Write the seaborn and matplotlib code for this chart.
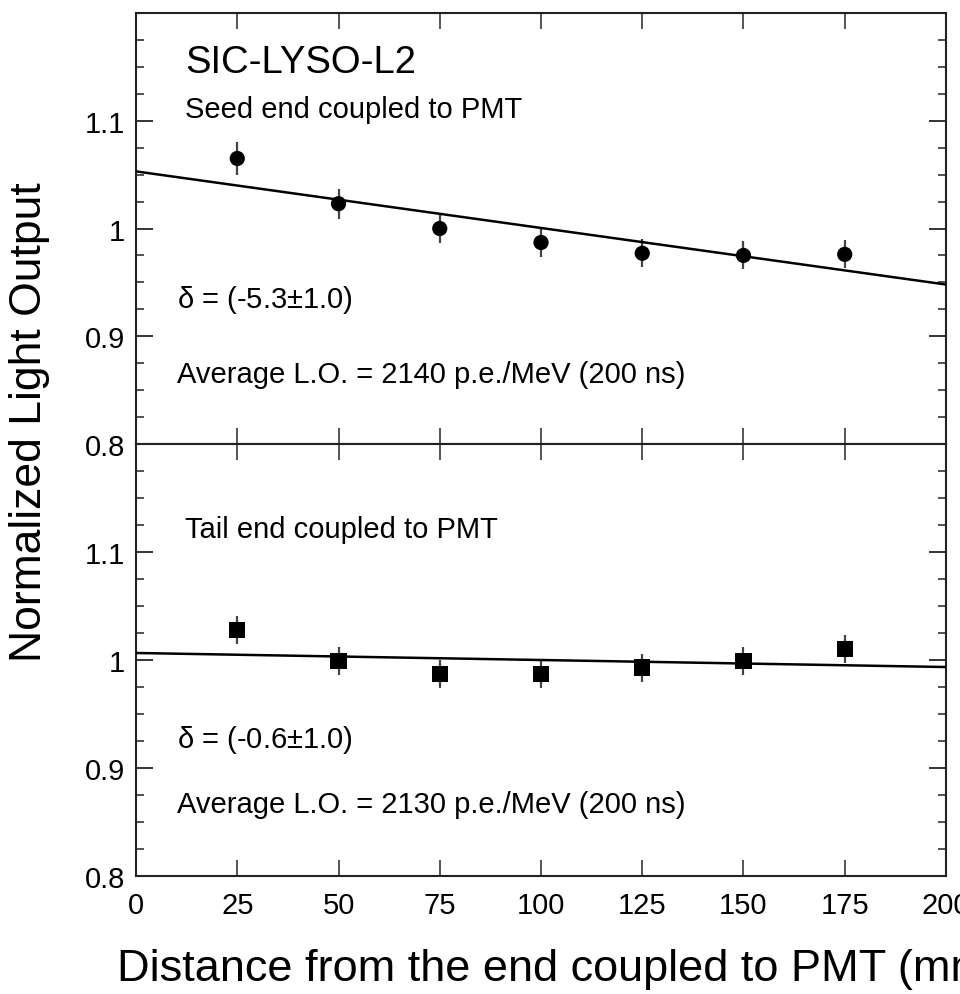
"""
    Light output uniformity of SIC-LYSO-L2, seed end vs tail end coupled to PMT.
"""

import matplotlib
matplotlib.use("Agg")
import numpy as np
import pandas as pd
import matplotlib.pyplot as plt
import matplotlib.ticker as mtick
import seaborn as sns

# Data
distance = [25, 50, 75, 100, 125, 150, 175]

seed_lo = [1.065, 1.023, 1.000, 0.987, 0.977, 0.975, 0.976]
seed_err = [0.015, 0.014, 0.013, 0.013, 0.013, 0.013, 0.013]

tail_lo = [1.028, 0.999, 0.987, 0.987, 0.993, 0.999, 1.010]
tail_err = [0.013, 0.013, 0.013, 0.013, 0.013, 0.013, 0.013]

# linear fits (intercept, slope) as drawn
seed_fit = (1.053, -0.000525)
tail_fit = (1.0065, -0.000065)
fit_x = [0, 200]

x_ticks = [0, 25, 50, 75, 100, 125, 150, 175, 200]
y_ticks = [0.8, 0.9, 1.0, 1.1]
y_tick_labels = ['0.8', '0.9', '1', '1.1']

crystal = 'SIC-LYSO-L2'
panel_titles = ['Seed end coupled to PMT', 'Tail end coupled to PMT']
delta_texts = [r'$\mathregular{\delta}$ = (-5.3±1.0)', r'$\mathregular{\delta}$ = (-0.6±1.0)']
avg_texts = ['Average L.O. = 2140 p.e./MeV (200 ns)',
             'Average L.O. = 2130 p.e./MeV (200 ns)']

sns.set_style("ticks")
plt.rcParams['font.family'] = ['Liberation Sans', 'DejaVu Sans']
plt.rcParams['mathtext.fontset'] = 'custom'
plt.rcParams['mathtext.rm'] = 'DejaVu Serif'
plt.rcParams['text.color'] = 'black'

SPINE = '#222222'
TXT = 21


def draw_panel(ax, lo, err, fit, marker, msize):
    df = pd.DataFrame({'x': distance, 'y': lo})
    ax.errorbar(distance, lo, yerr=err, fmt='none', ecolor='#444444',
                elinewidth=1.6, capsize=0, zorder=2)
    sns.scatterplot(data=df, x='x', y='y', marker=marker, s=msize,
                    color='black', edgecolor='none', linewidth=0, ax=ax, zorder=3)
    fx = np.array(fit_x, dtype=float)
    fit_df = pd.DataFrame({'x': fx, 'y': fit[0] + fit[1] * fx})
    sns.lineplot(data=fit_df, x='x', y='y', color='black', linewidth=1.8, ax=ax, zorder=4)

    ax.set_xlim(0, 200)
    ax.set_ylim(0.8, 1.2)
    ax.set_xticks(x_ticks)
    ax.set_yticks(y_ticks)
    ax.set_yticklabels(y_tick_labels)
    ax.yaxis.set_minor_locator(mtick.MultipleLocator(0.025))
    ax.tick_params(axis='x', which='major', direction='in', top=True, bottom=True,
                   length=11.5, width=1.4, color='#555555', labelcolor='black',
                   labelsize=21, pad=11)
    ax.tick_params(axis='y', which='major', direction='in', left=True, right=True,
                   length=12, width=1.4, color='#333333', labelcolor='black',
                   labelsize=21, pad=8)
    ax.tick_params(axis='y', which='minor', direction='in', left=True, right=True,
                   length=6, width=1.2, color='#333333')
    for sp in ax.spines.values():
        sp.set_color(SPINE)
        sp.set_linewidth(1.5)
    ax.set_xlabel('')
    ax.set_ylabel('')


fig = plt.figure(figsize=(9.6, 9.95), dpi=100)
ax_top = fig.add_axes([0.1417, 0.55276, 0.8437, 0.43317])
ax_bot = fig.add_axes([0.1417, 0.11859, 0.8437, 0.43417])

draw_panel(ax_top, seed_lo, seed_err, seed_fit, 'o', 120)
draw_panel(ax_bot, tail_lo, tail_err, tail_fit, 's', 135)

ax_top.tick_params(axis='x', labelbottom=False)

ax_top.text(0.0605, 0.886, crystal, transform=ax_top.transAxes, fontsize=27.5,
            ha='left', va='center')
ax_top.text(0.0605, 0.777, panel_titles[0], transform=ax_top.transAxes, fontsize=TXT,
            ha='left', va='center')
ax_bot.text(0.0605, 0.803, panel_titles[1], transform=ax_bot.transAxes, fontsize=TXT,
            ha='left', va='center')

for ax, dt, at, yd, ya in [(ax_top, delta_texts[0], avg_texts[0], 0.336, 0.162),
                           (ax_bot, delta_texts[1], avg_texts[1], 0.317, 0.167)]:
    ax.text(0.0506, yd, dt, transform=ax.transAxes, fontsize=TXT, ha='left', va='center')
    ax.text(0.0506, ya, at, transform=ax.transAxes, fontsize=TXT, ha='left', va='center')

fig.text(117 / 960, 1 - 970 / 995, 'Distance from the end coupled to PMT (mm)',
         fontsize=32.5, ha='left', va='center')
fig.text(30 / 960, 1 - 422 / 995, 'Normalized Light Output', fontsize=32,
         rotation=90, ha='center', va='center')

fig.savefig('out.png', dpi=100)
plt.close(fig)
